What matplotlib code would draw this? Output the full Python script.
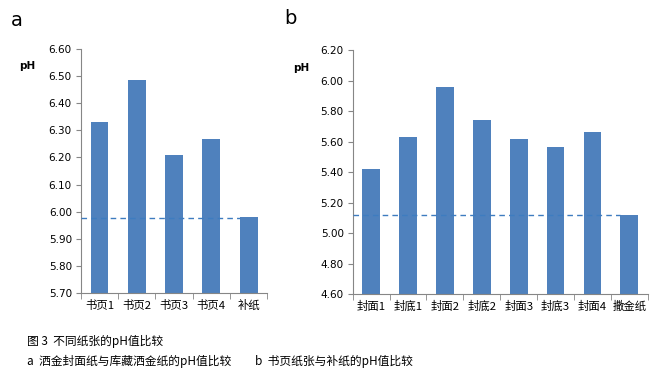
import matplotlib
matplotlib.use("Agg")
import matplotlib.pyplot as plt
import numpy as np

plt.rcParams['font.family'] = ['Noto Sans CJK SC', 'DejaVu Sans']

# panel a: 书页 vs 补纸
cats_a = ['书页1', '书页2', '书页3', '书页4', '补纸']
vals_a = [6.332, 6.487, 6.21, 6.269, 5.981]
ref_a = 5.976
yt_a = [5.70, 5.80, 5.90, 6.00, 6.10, 6.20, 6.30, 6.40, 6.50, 6.60]

# panel b: 封面/封底 vs 撒金纸
cats_b = ['封面1', '封底1', '封面2', '封底2', '封面3', '封底3', '封面4', '撒金纸']
vals_b = [5.42, 5.63, 5.957, 5.741, 5.616, 5.564, 5.664, 5.118]
ref_b = 5.116
yt_b = [4.60, 4.80, 5.00, 5.20, 5.40, 5.60, 5.80, 6.00, 6.20]

blue = '#4F81BD'
grey = '#868686'

fig = plt.figure(figsize=(6.63, 3.77), dpi=100)
ax_a = fig.add_axes([0.122, 0.223, 0.281, 0.647])
ax_b = fig.add_axes([0.532, 0.220, 0.445, 0.647])


def draw(ax, cats, vals, ref, yt):
    n = len(cats)
    x = np.arange(n)
    w = 0.48
    ax.bar(x, vals, width=w, color=blue, zorder=2)
    ax.hlines(ref, -0.5, n - 1 - w / 2, colors='#3E7CC0', linestyles=(0, (4, 3)),
              linewidth=1.0, zorder=3)
    ax.set_xlim(-0.5, n - 0.5)
    ax.set_ylim(yt[0], yt[-1])
    ax.set_yticks(yt)
    ax.set_yticklabels(['%.2f' % v for v in yt], fontsize=7.5, family='DejaVu Sans')
    ax.set_xticks(x)
    ax.set_xticklabels(cats, fontsize=8.2)
    ax.set_xticks(np.arange(n + 1) - 0.5, minor=True)
    ax.tick_params(axis='x', which='major', length=0, pad=5)
    ax.tick_params(axis='x', which='minor', length=4, color=grey, direction='out')
    ax.tick_params(axis='y', length=3.5, color=grey, direction='out', pad=3)
    for s in ['top', 'right']:
        ax.spines[s].set_visible(False)
    for s in ['left', 'bottom']:
        ax.spines[s].set_color(grey)
        ax.spines[s].set_linewidth(0.8)


draw(ax_a, cats_a, vals_a, ref_a, yt_a)
draw(ax_b, cats_b, vals_b, ref_b, yt_b)

fig.text(19 / 663, 1 - 66 / 377, 'pH', fontsize=7.5, fontweight='bold',
         family='DejaVu Sans', va='center')
fig.text(293 / 663, 1 - 68 / 377, 'pH', fontsize=7.5, fontweight='bold',
         family='DejaVu Sans', va='center')
fig.text(11 / 663, 1 - 20 / 377, 'a', fontsize=14, family='DejaVu Sans', va='center')
fig.text(284 / 663, 1 - 18 / 377, 'b', fontsize=14, family='DejaVu Sans', va='center')

fig.text(27 / 663, 1 - 341 / 377, '图 3  不同纸张的pH值比较', fontsize=8.5, va='center')
fig.text(27 / 663, 1 - 361 / 377, 'a  洒金封面纸与库藏洒金纸的pH值比较', fontsize=8.5, va='center')
fig.text(255 / 663, 1 - 361 / 377, 'b  书页纸张与补纸的pH值比较', fontsize=8.5, va='center')

fig.savefig('out.png', dpi=100)
